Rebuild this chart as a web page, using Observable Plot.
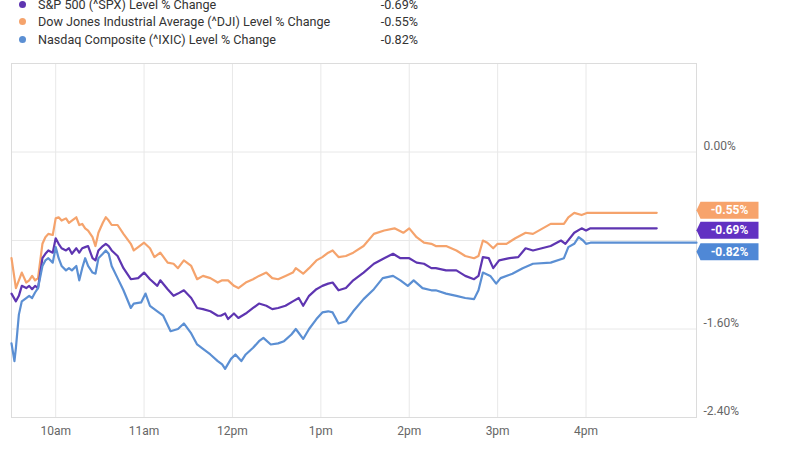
<!DOCTYPE html>
<html><head><meta charset="utf-8">
<script src="https://cdn.jsdelivr.net/npm/d3@7"></script>
<script src="https://cdn.jsdelivr.net/npm/@observablehq/plot@0.6"></script>
<style>
body{margin:0;background:#fff;font-family:Roboto,sans-serif;}
#wrap{position:relative;width:800px;height:450px;overflow:hidden;}
#legend{position:absolute;left:0;top:-4px;font-size:12.6px;color:#333;z-index:2;}
.row{position:relative;height:17.3px;line-height:17.3px;width:430px;}
.dot{position:absolute;left:19px;top:5px;width:7px;height:7px;border-radius:50%;}
.name{position:absolute;left:38px;white-space:nowrap;}
.val{position:absolute;right:12px;}
#chart{position:absolute;left:0;top:0;}
</style></head>
<body>
<div id="wrap"><div id="legend"></div><div id="chart"></div></div>
<script>
// ---- data (minutes after 9:30 open, % change) ----
const seriesNames = ["S&P 500 (^SPX) Level % Change", "Dow Jones Industrial Average (^DJI) Level % Change", "Nasdaq Composite (^IXIC) Level % Change"];
const seriesKeys = ["SPX", "DJI", "IXIC"];
const lastValues = [-0.69, -0.55, -0.82];
const seriesColors = ["#5e35b1", "#f5a36c", "#5b8fd3"];

const spxMinutes = [0,3,5,7,10,12,14,16,18,21,23,25,28,30,32,34,37,39,41,44,46,48,50,52,55,57,59,62,64,66,68,72,76,81,86,90,94,99,101,106,110,113,117,122,126,130,135,140,142,145,147,151,154,159,164,168,173,177,181,186,191,195,198,202,207,211,215,218,222,227,232,239,246,253,259,264,270,275,280,285,288,295,302,308,314,317,320,324,327,331,338,344,349,354,366,373,376,382,387,390,393,438];
const spxValues = [-1.28,-1.35,-1.30,-1.21,-1.23,-1.21,-1.24,-1.21,-1.23,-0.96,-0.92,-0.89,-0.91,-0.78,-0.83,-0.87,-0.89,-0.87,-0.92,-0.87,-0.91,-0.87,-0.86,-0.85,-0.96,-0.98,-0.89,-0.85,-0.83,-0.85,-0.89,-0.94,-1.05,-1.15,-1.14,-1.09,-1.15,-1.21,-1.16,-1.24,-1.30,-1.28,-1.25,-1.32,-1.41,-1.42,-1.44,-1.48,-1.48,-1.46,-1.51,-1.46,-1.50,-1.46,-1.41,-1.37,-1.39,-1.42,-1.41,-1.39,-1.35,-1.32,-1.39,-1.30,-1.24,-1.21,-1.19,-1.18,-1.25,-1.23,-1.16,-1.09,-1.01,-0.96,-0.92,-0.96,-0.96,-1.00,-1.01,-1.05,-1.05,-1.07,-1.07,-1.12,-1.15,-1.12,-0.95,-0.96,-1.05,-0.98,-0.96,-0.95,-0.87,-0.89,-0.85,-0.80,-0.83,-0.73,-0.69,-0.71,-0.69,-0.69];

const djiMinutes = [0,3,5,7,10,12,14,16,18,21,23,25,28,30,32,34,37,39,41,44,46,48,50,52,55,57,59,62,64,66,68,72,76,81,83,86,90,94,97,101,106,110,113,117,122,126,130,135,140,143,147,151,154,159,164,168,173,177,181,186,191,193,198,202,207,211,215,218,222,227,232,239,246,253,260,266,270,275,280,285,288,295,302,308,314,317,320,323,327,330,336,342,349,354,366,375,378,382,387,391,395,438];
const djiValues = [-0.96,-1.23,-1.16,-1.09,-1.18,-1.16,-1.12,-1.16,-1.14,-0.83,-0.77,-0.74,-0.75,-0.60,-0.59,-0.62,-0.60,-0.64,-0.62,-0.59,-0.66,-0.65,-0.69,-0.71,-0.77,-0.85,-0.73,-0.64,-0.59,-0.62,-0.66,-0.66,-0.74,-0.83,-0.89,-0.86,-0.82,-0.87,-0.95,-0.91,-1.00,-1.01,-1.05,-0.98,-1.03,-1.15,-1.12,-1.14,-1.18,-1.16,-1.16,-1.21,-1.23,-1.18,-1.15,-1.12,-1.09,-1.14,-1.15,-1.12,-1.09,-1.05,-1.10,-1.05,-0.98,-0.95,-0.91,-0.89,-0.95,-0.94,-0.91,-0.85,-0.74,-0.71,-0.69,-0.73,-0.69,-0.77,-0.82,-0.83,-0.85,-0.85,-0.89,-0.94,-0.96,-0.94,-0.80,-0.82,-0.87,-0.83,-0.83,-0.78,-0.73,-0.74,-0.65,-0.65,-0.59,-0.55,-0.57,-0.55,-0.55,-0.55];

const ixicMinutes = [0,2,3,4,5,7,10,12,14,16,18,21,23,25,28,30,32,34,37,39,41,44,46,48,50,52,55,57,59,62,64,66,68,72,76,81,83,88,91,94,99,103,108,113,117,122,126,130,135,140,143,145,149,152,156,159,164,168,171,176,181,185,190,193,198,202,207,211,215,218,222,227,232,239,246,252,259,264,269,273,279,285,288,295,302,308,314,317,320,325,329,332,340,347,354,366,375,378,382,385,388,390,393,465];
const ixicValues = [-1.73,-1.89,-1.77,-1.62,-1.47,-1.35,-1.32,-1.30,-1.32,-1.27,-1.23,-1.03,-0.98,-0.96,-1.00,-0.86,-0.96,-1.03,-1.07,-1.05,-1.07,-1.03,-1.16,-1.05,-0.96,-1.03,-1.09,-1.10,-0.96,-0.92,-0.89,-0.92,-1.03,-1.14,-1.25,-1.41,-1.37,-1.36,-1.28,-1.39,-1.44,-1.48,-1.62,-1.60,-1.55,-1.64,-1.74,-1.78,-1.83,-1.89,-1.92,-1.96,-1.87,-1.83,-1.89,-1.83,-1.77,-1.71,-1.68,-1.74,-1.73,-1.71,-1.65,-1.60,-1.69,-1.60,-1.51,-1.45,-1.44,-1.45,-1.55,-1.53,-1.44,-1.33,-1.24,-1.14,-1.12,-1.16,-1.21,-1.16,-1.23,-1.25,-1.25,-1.28,-1.30,-1.32,-1.33,-1.25,-1.09,-1.12,-1.19,-1.14,-1.10,-1.05,-1.01,-1.00,-0.96,-0.86,-0.83,-0.77,-0.80,-0.83,-0.82,-0.82];

const tickHours = [10, 11, 12, 13, 14, 15, 16];
const tickLabels = ["10am", "11am", "12pm", "1pm", "2pm", "3pm", "4pm"];
const yLabelTicks = [0, -1.6, -2.4];
const yGridTicks = [0, -0.8, -1.6, -2.4];
const yDomain = [-2.4, 0.8];
const sessionMinutes = [0, 465];

// ---- build ----
const day = (h, m) => new Date(Date.UTC(2021, 0, 4, h, m));
const t = (min) => day(9, 30 + min);
const rows = [];
const add = (key, mins, vals) => mins.forEach((m, i) => rows.push({key, time: t(m), value: vals[i]}));
add("DJI", djiMinutes, djiValues);
add("SPX", spxMinutes, spxValues);
add("IXIC", ixicMinutes, ixicValues);

const colorOf = Object.fromEntries(seriesKeys.map((k, i) => [k, seriesColors[i]]));
const badgeColors = {SPX: "#6131c2", DJI: "#f7a36b", IXIC: "#4f88d6"};
const badgeDy = {DJI: -2.5, SPX: 2, IXIC: 9};

// legend
const legend = document.getElementById("legend");
seriesNames.forEach((n, i) => {
  const r = document.createElement("div"); r.className = "row";
  r.innerHTML = `<span class="dot" style="background:${seriesColors[i]}"></span><span class="name"></span><span class="val">${lastValues[i].toFixed(2)}%</span>`;
  r.querySelector(".name").textContent = n;
  legend.appendChild(r);
});

const badgeSymbol = {draw(ctx) {
  ctx.moveTo(-32, 0); ctx.lineTo(-28, -8.5); ctx.lineTo(30, -8.5);
  ctx.lineTo(30, 8.5); ctx.lineTo(-28, 8.5); ctx.closePath();
}};

const xEnd = t(sessionMinutes[1]);
const badgeMarks = [];
seriesKeys.forEach((k, i) => {
  const d = [{time: xEnd, value: lastValues[i]}];
  badgeMarks.push(Plot.dot(d, {x: "time", y: "value", symbol: badgeSymbol, r: 5, fill: badgeColors[k], stroke: "none", dx: 32, dy: badgeDy[k]}));
  badgeMarks.push(Plot.text(d, {x: "time", y: "value", text: d => d.value.toFixed(2) + "%", fill: "white", fontWeight: "bold", fontSize: 12, dx: 33, dy: badgeDy[k]}));
});

const chart = Plot.plot({
  width: 800, height: 450,
  marginLeft: 11, marginRight: 104, marginTop: 63, marginBottom: 33,
  style: {fontFamily: "Roboto, sans-serif", background: "#fff"},
  x: {type: "utc", domain: [t(sessionMinutes[0]), xEnd]},
  y: {domain: yDomain},
  marks: [
    Plot.gridY(yGridTicks, {stroke: "#e8e8e8", strokeOpacity: 1}),
    Plot.gridX(tickHours.map(h => day(h, 0)), {stroke: "#e8e8e8", strokeOpacity: 1}),
    Plot.frame({stroke: "#dcdcdc"}),
    Plot.axisX(tickHours.map(h => day(h, 0)), {tickSize: 0, tickPadding: 9, tickFormat: d => tickLabels[tickHours.indexOf(d.getUTCHours())], fontSize: 12, color: "#666", label: null}),
    Plot.axisY(yLabelTicks, {anchor: "right", tickSize: 0, tickPadding: 7, dy: -6, tickFormat: d => d.toFixed(2) + "%", fontSize: 12, color: "#666", label: null}),
    Plot.line(rows, {x: "time", y: "value", z: "key", stroke: d => colorOf[d.key], strokeWidth: 2.2, curve: "linear"}),
    ...badgeMarks
  ]
});
document.getElementById("chart").appendChild(chart);
</script>
</body></html>
